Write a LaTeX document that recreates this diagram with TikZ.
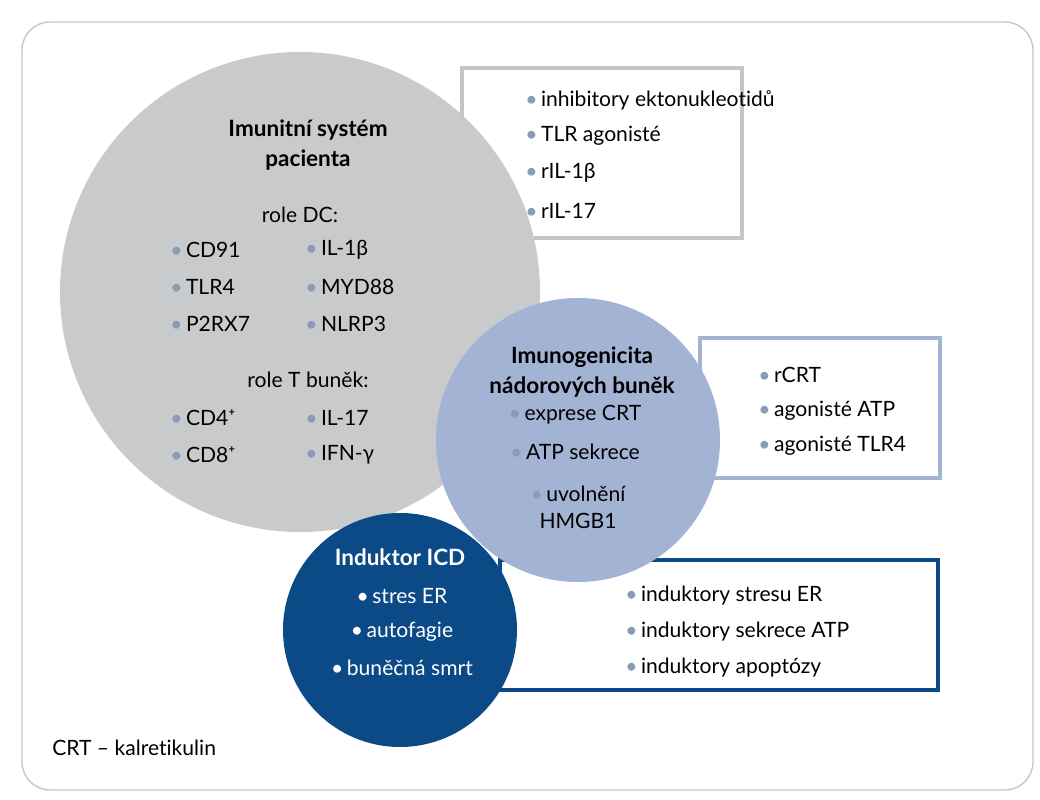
\documentclass[tikz,border=0pt]{standalone}
\usepackage{fontspec}
\setmainfont{Lato}[Ligatures={NoCommon,NoRare,NoContextual}]
\usetikzlibrary{positioning}
\definecolor{circgray}{HTML}{C9CACC}
\definecolor{circlight}{HTML}{A3B3D4}
\definecolor{circdark}{HTML}{0B4A86}
\definecolor{boxgray}{HTML}{C4C6C9}
\definecolor{bulgray}{HTML}{8A9BB8}
\tikzset{
  txt/.style={font=\fontsize{15}{19}\selectfont, inner sep=0pt, anchor=west},
  ctxt/.style={font=\fontsize{15}{19}\selectfont, inner sep=0pt},
  infobox/.style={line width=3pt, fill=white},
}
\newcommand{\bul}{{\color{bulgray}\textbullet}\,}
\newcommand{\wbul}{\textbullet\,}
\begin{document}
\begin{tikzpicture}[x=0.025cm,y=-0.025cm]
    \useasboundingbox (0,0) rectangle (1040,800);
    % Frame
    \draw[boxgray, line width=1pt, rounded corners=20pt] (22,22) rectangle (1033,790);

    % Boxes behind circles
    \draw[infobox, draw=boxgray] (462,68) rectangle (742,238);
    \draw[infobox, draw=circlight] (700,338) rectangle (940,478);
    \draw[infobox, draw=circdark] (500,560) rectangle (938,690);

    % Circles
    \fill[circgray] (300,292) circle (240);
    \fill[circlight] (578,440) circle (142);
    \fill[circdark] (400,630) circle (117);

    % Gray circle text
    \node[ctxt, align=center, font=\fontsize{16}{21}\selectfont\bfseries] (immun) at (308,145) {Imunitní systém\\pacienta};
    \node[ctxt] (roledc) at (300,215) {role DC:};
    \node[txt] (cd91) at (170,250) {\bul CD91};
    \node[txt] (tlr4) at (170,287) {\bul TLR4};
    \node[txt] (p2rx7) at (170,324) {\bul P2RX7};
    \node[txt] (il1b) at (305,250) {\bul IL-1β};
    \node[txt] (myd88) at (305,287) {\bul MYD88};
    \node[txt] (nlrp3) at (305,324) {\bul NLRP3};
    \node[ctxt] (rolet) at (308,380) {role T buněk:};
    \node[txt] (cd4) at (170,418) {\bul CD4⁺};
    \node[txt] (cd8) at (170,455) {\bul CD8⁺};
    \node[txt] (il17) at (305,418) {\bul IL-17};
    \node[txt] (ifng) at (305,455) {\bul IFN-γ};

    % Top-right box
    \node[txt] (ekto) at (525,100) {\bul inhibitory ektonukleotidů};
    \node[txt] (tlrag) at (525,136) {\bul TLR agonisté};
    \node[txt] (ril1b) at (525,173) {\bul rIL-1β};
    \node[txt] (ril17) at (525,211) {\bul rIL-17};

    % Light circle text
    \node[ctxt, align=center, font=\fontsize{16}{21}\selectfont\bfseries] (imuno) at (582,372) {Imunogenicita\\nádorových buněk};
    \node[ctxt] (crt) at (575,415) {\bul exprese CRT};
    \node[ctxt] (atp) at (575,452) {\bul ATP sekrece};
    \node[ctxt, align=center] (hmgb) at (578,507) {\bul uvolnění\\HMGB1};

    % Middle box
    \node[txt] (rcrt) at (758,375) {\bul rCRT};
    \node[txt] (agatp) at (758,411) {\bul agonisté ATP};
    \node[txt] (agtlr) at (758,446) {\bul agonisté TLR4};

    % Dark circle text
    \node[ctxt, white, font=\fontsize{16}{21}\selectfont\bfseries] (induk) at (400,557) {Induktor ICD};
    \node[ctxt, white] (stres) at (402,596) {\wbul stres ER};
    \node[ctxt, white] (auto) at (402,632) {\wbul autofagie};
    \node[ctxt, white] (smrt) at (402,668) {\wbul buněčná smrt};

    % Bottom box
    \node[txt] (indstres) at (625,596) {\bul induktory stresu ER};
    \node[txt] (indatp) at (625,632) {\bul induktory sekrece ATP};
    \node[txt] (indapo) at (625,668) {\bul induktory apoptózy};

    % Footnote
    \node[txt] (note) at (52,748) {CRT – kalretikulin};
\end{tikzpicture}
\end{document}
